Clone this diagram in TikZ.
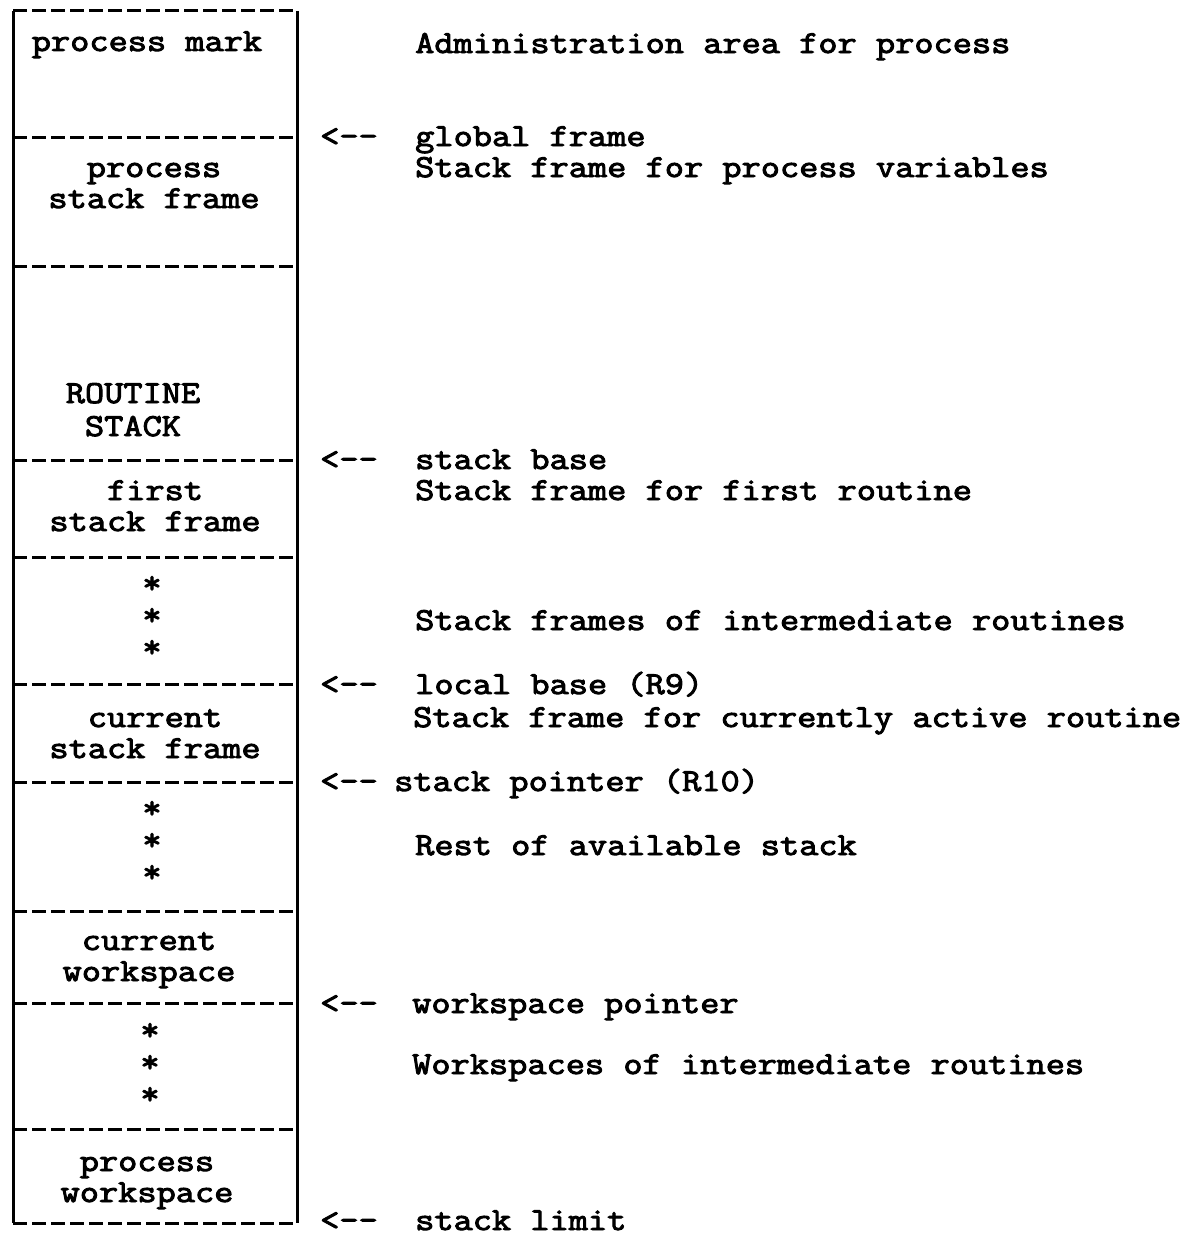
\documentclass[tikz,border=0pt]{standalone}
\usepackage{fontspec}
\newfontfamily\twfam{Latin Modern Mono}[FakeStretch=1.165,FakeBold=3]
\newcommand\twfont{\twfam\fontsize{32}{32}\selectfont}
\newcommand\larr{<\mbox{-}\mbox{-}}
\begin{document}
\begin{tikzpicture}[x=1pt,y=-1pt,
  lab/.style={anchor=base, inner sep=0pt, font=\twfont},
  rlab/.style={anchor=base west, inner sep=0pt, font=\twfont},
  star/.style={anchor=base, inner sep=0pt, font=\twfont},
  divider/.style={line width=3pt, dash pattern=on 14pt off 5pt},
  side/.style={line width=3pt}]
\useasboundingbox (0,0) rectangle (1200,1239);
% box
\coordinate (tl) at (13,11);
\coordinate (tr) at (297,11);
\coordinate (bl) at (13,1223);
\coordinate (br) at (297,1223);
\draw[side] (tl) -- (bl);
\draw[side] (tr) -- (br);
\draw[divider] (tl) -- (tr);
\draw[divider] (bl) -- (br);
\foreach \yy in {137,266,460,557,684,782,911,1003,1129}
  \draw[divider] (13,\yy) -- (297,\yy);
% left labels
\node[lab] (pm) at (147,51) {process mark};
\node[lab] (psf1) at (154,177) {process};
\node[lab] (psf2) at (154,208) {stack frame};
\node[lab] (rs1) at (133,403) {ROUTINE};
\node[lab] (rs2) at (133,436) {STACK};
\node[lab] (fsf1) at (155,500) {first};
\node[lab] (fsf2) at (155,531) {stack frame};
\node[star] (s1) at (152,593) {*};
\node[star] (s2) at (152,625) {*};
\node[star] (s3) at (152,657) {*};
\node[lab] (csf1) at (155,727) {current};
\node[lab] (csf2) at (155,758) {stack frame};
\node[star] (s4) at (152,818) {*};
\node[star] (s5) at (152,850) {*};
\node[star] (s6) at (152,882) {*};
\node[lab] (cw1) at (149,950) {current};
\node[lab] (cw2) at (149,981) {workspace};
\node[star] (s7) at (150,1040) {*};
\node[star] (s8) at (150,1072) {*};
\node[star] (s9) at (150,1104) {*};
\node[lab] (pw1) at (147,1171) {process};
\node[lab] (pw2) at (147,1202) {workspace};
% right labels
\node[rlab] (adm) at (415,53) {Administration area for process};
\node[rlab] (a1) at (320,146) {\larr};
\node[rlab] (gf) at (415,146) {global frame};
\node[rlab] (sfp) at (415,177) {Stack frame for process variables};
\node[rlab] (a2) at (320,469) {\larr};
\node[rlab] (sb) at (415,469) {stack base};
\node[rlab] (sff) at (415,500) {Stack frame for first routine};
\node[rlab] (sfi) at (415,630) {Stack frames of intermediate routines};
\node[rlab] (a3) at (320,694) {\larr};
\node[rlab] (lb) at (415,694) {local base (R9)};
\node[rlab] (sfc) at (413,727) {Stack frame for currently active routine};
\node[rlab] (a4) at (320,791) {\larr};
\node[rlab] (sp) at (394,791) {stack pointer (R10)};
\node[rlab] (rest) at (415,855) {Rest of available stack};
\node[rlab] (a5) at (320,1013) {\larr};
\node[rlab] (wp) at (412,1013) {workspace pointer};
\node[rlab] (wsi) at (412,1074) {Workspaces of intermediate routines};
\node[rlab] (a6) at (320,1230) {\larr};
\node[rlab] (sl) at (415,1230) {stack limit};
\end{tikzpicture}
\end{document}
